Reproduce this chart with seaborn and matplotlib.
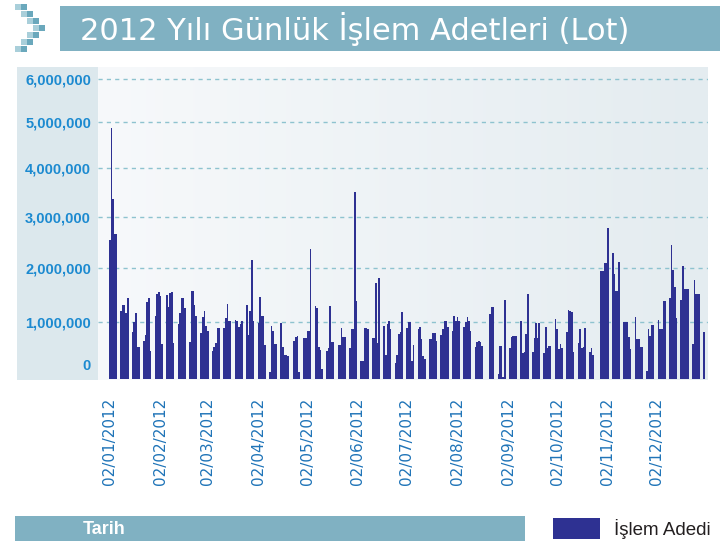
import matplotlib
matplotlib.use("Agg")
import matplotlib.pyplot as plt
from matplotlib.patches import Rectangle
from matplotlib.colors import LinearSegmentedColormap
import matplotlib.dates as mdates
import numpy as np
import pandas as pd
import seaborn as sns

# daily volume per month (million lots)
ocak = [2.55, 4.88, 3.37, 2.67, 2.67, 1.20, 1.32, 1.32, 1.16, 1.44, 0.82, 1.00, 1.16, 0.56, 0.56,
        0.66, 0.77, 1.36, 1.45, 0.48, 1.12, 1.51]
subat = [1.56, 1.48, 0.61, 1.49, 1.27, 1.54, 1.55, 0.63, 0.97, 1.16, 1.45, 1.45, 1.25, 0.64, 1.58,
         1.58, 1.32, 1.12, 0.80, 1.09, 1.20]
mart = [0.94, 0.84, 0.48, 0.56, 0.62, 0.89, 0.89, 0.90, 1.07, 1.33, 1.02, 1.02, 1.04, 1.02, 0.91,
        0.96, 1.02, 1.31, 0.77, 1.20, 2.15, 1.03]
nisan = [0.99, 1.46, 1.12, 1.12, 0.59, 0.12, 0.93, 0.84, 0.60, 0.60, 0.99, 0.56, 0.42, 0.42, 0.40,
         0.67, 0.73, 0.75, 0.11, 0.72]
mayis = [0.72, 0.85, 0.85, 2.37, 1.29, 1.25, 0.55, 0.50, 0.16, 0.49, 0.53, 1.30, 0.64, 0.64, 0.59,
         0.59, 0.89, 0.73, 0.73, 0.54, 0.88, 0.88, 3.50]
haziran = [1.39, 0.31, 0.31, 0.90, 0.90, 0.88, 0.71, 0.71, 1.73, 0.63, 1.81, 0.94, 0.41, 0.97, 1.03,
           0.88, 0.27, 0.41, 0.79, 0.82, 1.18]
temmuz = [0.89, 1.00, 1.00, 0.31, 0.59, 0.88, 0.92, 0.70, 0.39, 0.34, 0.70, 0.70, 0.80, 0.80, 0.66,
          0.77, 0.88, 1.02, 1.02, 0.91, 0.84, 1.11]
agustos = [1.03, 1.09, 1.03, 0.91, 1.00, 1.09, 1.03, 0.85, 0.55, 0.64, 0.67, 0.65, 0.57, 1.15, 1.27,
           1.27, 0.08, 0.57, 0.57, 0.03, 1.40]
eylul = [0.53, 0.74, 0.76, 0.76, 0.76, 1.03, 0.45, 0.47, 0.78, 1.51, 0.46, 0.71, 0.99, 0.72, 0.99,
         0.45, 0.91, 0.54, 0.58, 0.58]
ekim = [1.05, 0.87, 0.52, 0.60, 0.54, 0.83, 1.23, 1.20, 1.18, 0.46, 0.63, 0.88, 0.54, 0.55, 0.89,
        0.47, 0.53, 0.42, 1.95, 1.95, 2.10]
kasim = [2.10, 2.78, 2.30, 1.90, 1.57, 1.57, 2.12, 1.00, 1.00, 1.00, 0.74, 0.52, 1.09, 0.70, 0.70,
         0.56, 0.56, 0.14, 0.88, 0.76, 0.95, 0.95]
aralik = [1.04, 0.88, 0.88, 1.39, 1.39, 1.44, 2.44, 1.97, 1.65, 1.07, 1.40, 2.05, 1.61, 1.61, 1.61,
          0.61, 1.78, 1.52, 1.52, 1.52, 0.83]

# weekdays with no trading
tatil = ["2012-04-23", "2012-08-20", "2012-08-21", "2012-10-25", "2012-10-26"]

tick_days = ["2012-01-02", "2012-02-02", "2012-03-02", "2012-04-02", "2012-05-02", "2012-06-02",
             "2012-07-02", "2012-08-02", "2012-09-02", "2012-10-02", "2012-11-02", "2012-12-02"]
y_ticks = [1e6, 2e6, 3e6, 4e6, 5e6, 6e6]

months = [ocak, subat, mart, nisan, mayis, haziran, temmuz, agustos, eylul, ekim, kasim, aralik]
days = pd.bdate_range("2012-01-01", "2012-12-31")
days = days[~days.isin(pd.to_datetime(tatil))]
for m, v in enumerate(months, 1):
    assert (days.month == m).sum() == len(v), (m, (days.month == m).sum(), len(v))

df = pd.DataFrame({"gun": mdates.date2num(days), "adet": np.concatenate(months) * 1e6})

W, H = 720, 551
BAR = "#2e3192"
STRIP = "#80b1c2"
NARROW = ["Liberation Sans", "DejaVu Sans"]

sns.set_style("white")
plt.rcParams["font.family"] = ["DejaVu Sans"]

fig = plt.figure(figsize=(W / 100, H / 100), dpi=100)


def box(x0, y0, x1, y1, color, z=1):
    # rectangle in pixel coords, y measured from the top
    fig.add_artist(Rectangle((x0 / W, 1 - y1 / H), (x1 - x0) / W, (y1 - y0) / H,
                             transform=fig.transFigure, color=color, lw=0, zorder=z))


# header
box(60, 6, 720, 51, STRIP)
fig.text(80 / W, 1 - 29 / H, "2012 Yılı Günlük İşlem Adetleri (Lot)", color="white",
         fontsize=22, va="center", ha="left")
# pixel chevron left of the header
for cx, cy in [(15, 4), (21, 11), (27, 18), (33, 25), (27, 32), (21, 39), (15, 46)]:
    box(cx, cy, cx + 6, cy + 6, "#a9cfda")
    box(cx + 6, cy, cx + 12, cy + 6, "#6aa8bc")

# strip behind the y labels
box(17, 67, 98, 380, "#dce8ed", z=-1)

ax = fig.add_axes([98 / W, 1 - 380 / H, 610 / W, 313 / H])

# y axis is slightly compressed towards the top in the original
K = 0.0225e-6


def fwd(v):
    return v - K * v ** 2


def inv(f):
    return (1 - np.sqrt(np.clip(1 - 4 * K * f, 0, None))) / (2 * K)


ax.set_yscale("function", functions=(fwd, inv))

cmap = LinearSegmentedColormap.from_list("bg", ["#f7f9fb", "#e4ecf0"])
ax.imshow(np.linspace(0, 1, 256).reshape(1, -1), extent=[0, 1, 0, 1], transform=ax.transAxes,
          aspect="auto", cmap=cmap, zorder=0)

sns.barplot(data=df, x="gun", y="adet", native_scale=True, width=1.0, color=BAR, saturation=1,
            errorbar=None, linewidth=0, ax=ax, zorder=2)

first, last = df["gun"].iloc[0], df["gun"].iloc[-1]
ax.set_xlim(first - 7.2, last + 2.35)
ax.set_ylim(-0.0225e6, 6.28e6)

ax.set_yticks(y_ticks)
ax.set_yticklabels([f"{int(t):,}" for t in y_ticks], color="#1c8ad0", fontsize=10.5,
                   fontweight="bold", family=NARROW)
ax.annotate("0", xy=(0, 0), xycoords=("axes fraction", "data"), xytext=(-5, 9.5),
            textcoords="offset points", ha="right", va="center", color="#1c8ad0", fontsize=10.5,
            fontweight="bold", family=NARROW, annotation_clip=False)

tks = pd.to_datetime(tick_days)
ax.set_xticks(mdates.date2num(tks))
ax.set_xticklabels([d.strftime("%d/%m/%Y") for d in tks], rotation=90, color="#1f74b8",
                   fontsize=11, va="top")
ax.tick_params(axis="x", length=0, pad=13)
ax.tick_params(axis="y", length=0, pad=5)
ax.set_xlabel("")
ax.set_ylabel("")

ax.grid(axis="y", color="#8ec3cf", linestyle=(0, (3, 3)), linewidth=1)
ax.grid(axis="x", visible=False)
ax.set_axisbelow(True)
for s in ax.spines.values():
    s.set_visible(False)

# footer: axis caption and legend
box(15, 516, 525, 541, STRIP)
fig.text(83 / W, 1 - 529 / H, "Tarih", color="white", fontsize=13, fontweight="bold",
         va="center", ha="left", family=NARROW)
fig.legend(handles=[Rectangle((0, 0), 1, 1, color=BAR, lw=0)], labels=["İşlem Adedi"],
           loc="center left", bbox_to_anchor=(553 / W, 1 - 528.5 / H), frameon=False,
           borderpad=0, borderaxespad=0, handlelength=2.5, handleheight=1.35,
           handletextpad=0.75, prop={"family": NARROW, "size": 13.5}, labelcolor="#231f20")

fig.savefig("out.png", dpi=100)
